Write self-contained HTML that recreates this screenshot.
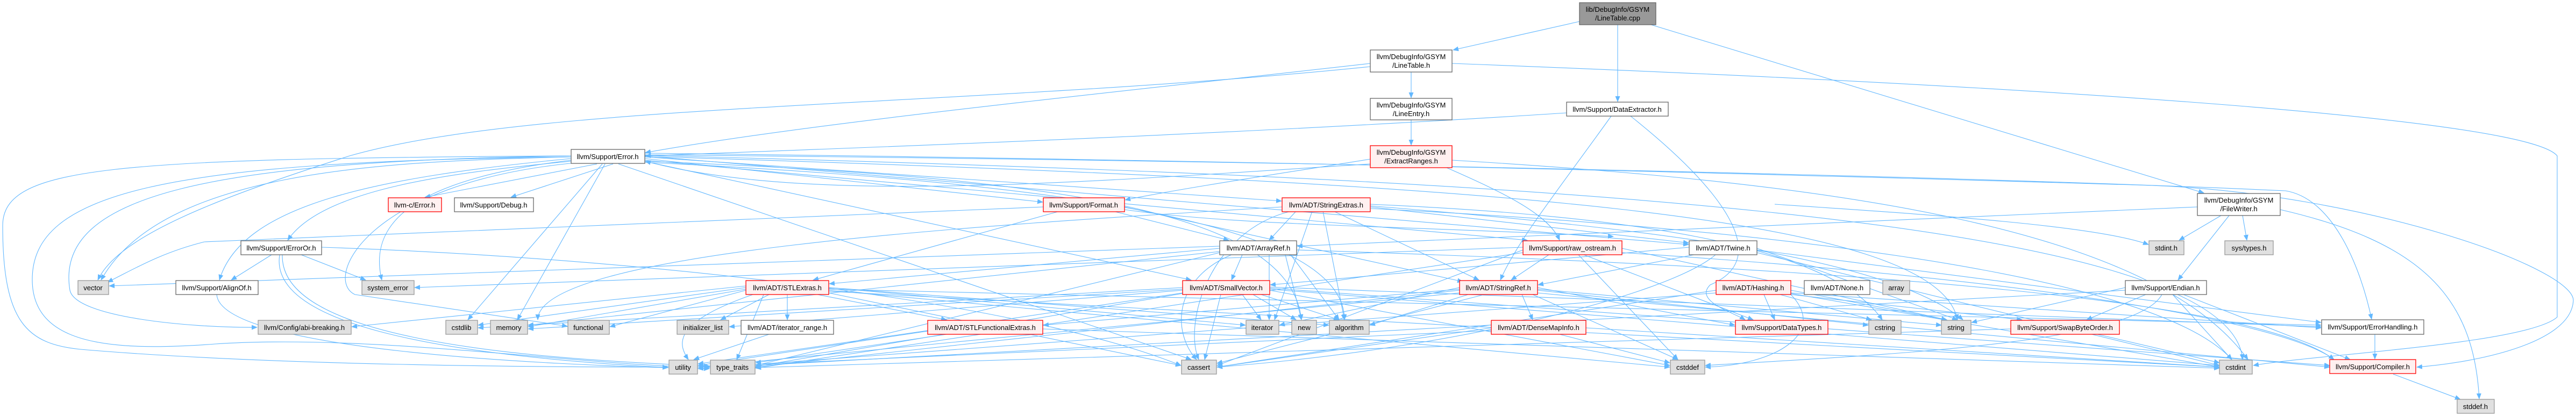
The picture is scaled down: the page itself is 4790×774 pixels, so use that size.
<!DOCTYPE html>
<html><head><meta charset="utf-8"><style>
html,body{margin:0;padding:0;background:#fff}
svg{display:block}
text{font-family:"Liberation Sans",sans-serif;font-size:13px;fill:#000;text-anchor:middle}
.e path{fill:none;stroke:#63b8ff;stroke-width:1.1}
.w{fill:#fff;stroke:#666;stroke-width:1.3}
.g{fill:#e0e0e0;stroke:#999;stroke-width:1.3}
.r{fill:#fff0f0;stroke:#f00;stroke-width:1.3}
.k{fill:#999;stroke:#666;stroke-width:1.3}
</style></head><body>
<svg width="4790" height="774" viewBox="0 0 4790 774" xmlns="http://www.w3.org/2000/svg">
<defs><marker id="a" markerWidth="11" markerHeight="9" refX="10" refY="4.5" orient="auto" markerUnits="userSpaceOnUse"><path d="M0,0 L11,4.5 L0,9z" fill="#63b8ff"/></marker></defs>
<g class="e" marker-end="url(#a)">
<!-- root -->
<path d="M2937,40 L2702,93" marker-end="url(#a)"/>
<path d="M3008,46 L3008,189" marker-end="url(#a)"/>
<path d="M3070,46 L4098,359" marker-end="url(#a)"/>
<!-- LineTable.h -->
<path d="M2624,134 L2624,182" marker-end="url(#a)"/>
<path d="M2548,118 C2000,180 1500,230 1200,284" marker-end="url(#a)"/>
<path d="M2548,124 C1800,200 1000,190 650,290 C400,370 220,440 182,521" marker-end="url(#a)"/>
<path d="M2700,118 C3800,160 4700,220 4755,290 L4755,590 C4700,640 4300,660 4190,680" marker-end="url(#a)"/>
<path d="M2624,223 L2624,270" marker-end="url(#a)"/>
<!-- DataExtractor -->
<path d="M2913,210 C2300,250 1600,275 1200,290" marker-end="url(#a)"/>
<path d="M2996,216 C2900,350 2820,450 2790,521" marker-end="url(#a)"/>
<path d="M3032,216 C3200,350 3300,480 3180,530 C3150,560 3220,580 3245,595" marker-end="url(#a)"/>
<!-- ExtractRanges -->
<path d="M2548,296 C2400,320 2200,350 2092,372" marker-end="url(#a)"/>
<path d="M2690,312 C2800,360 2880,400 2900,447" marker-end="url(#a)"/>
<path d="M2700,298 C3400,340 4000,420 4180,669" marker-end="url(#a)"/>
<path d="M2548,305 C2000,340 1500,380 1200,300"/>
<!-- Error.h -->
<path d="M1110,305 L790,367" marker-end="url(#a)"/>
<path d="M1140,305 L950,367" marker-end="url(#a)"/>
<path d="M1062,300 C850,320 600,350 535,447" marker-end="url(#a)"/>
<path d="M1062,292 C700,300 300,320 188,521" marker-end="url(#a)"/>
<path d="M1062,295 C700,330 450,380 408,521" marker-end="url(#a)"/>
<path d="M1062,298 C800,330 680,400 710,521" marker-end="url(#a)"/>
<path d="M1062,290 C400,300 100,360 130,540 C140,590 350,610 478,609" marker-end="url(#a)"/>
<path d="M1120,305 L870,595" marker-end="url(#a)"/>
<path d="M1125,305 L962,595" marker-end="url(#a)"/>
<path d="M1070,303 C680,340 600,520 660,548 L1055,607" marker-end="url(#a)"/>
<path d="M1062,290 C200,295 5,310 5,420 C5,600 50,640 150,650 C500,680 1000,683 1242,683" marker-end="url(#a)"/>
<path d="M1062,292 C300,300 60,360 60,520 C60,640 200,655 400,640 C700,620 1100,683 1319,683" marker-end="url(#a)"/>
<path d="M1150,305 L2215,669" marker-end="url(#a)"/>
<path d="M1198,295 L1939,376" marker-end="url(#a)"/>
<path d="M1198,292 L2383,374" marker-end="url(#a)"/>
<path d="M1198,300 L2215,521" marker-end="url(#a)"/>
<path d="M1198,290 L3140,455" marker-end="url(#a)"/>
<path d="M1198,288 C2500,300 3700,330 4250,355 C4340,370 4390,500 4410,594" marker-end="url(#a)"/>
<path d="M1198,285 C2500,300 3500,330 4000,345 C4400,360 4790,500 4785,560 C4780,640 4600,675 4494,683" marker-end="url(#a)"/>
<path d="M1198,289 C2800,330 4150,400 4170,669" marker-end="url(#a)"/>
<path d="M1198,291 C2800,340 3600,400 3640,595" marker-end="url(#a)"/>
<path d="M1198,300 C2000,330 2400,400 2420,595" marker-end="url(#a)"/>
<path d="M1198,302 C2000,340 2500,420 2500,595" marker-end="url(#a)"/>
<path d="M1198,298 L2840,447" marker-end="url(#a)"/>
<!-- ErrorOr -->
<path d="M505,474 L430,521" marker-end="url(#a)"/>
<path d="M560,474 L680,521" marker-end="url(#a)"/>
<path d="M520,474 C500,600 800,660 1242,684" marker-end="url(#a)"/>
<path d="M525,474 C520,620 900,665 1319,681" marker-end="url(#a)"/>
<path d="M598,460 C1200,480 1900,560 2196,680" marker-end="url(#a)"/>
<!-- AlignOf -->
<path d="M403,548 C410,650 1000,680 1319,686" marker-end="url(#a)"/>
<!-- Format -->
<path d="M1970,393 L1512,521" marker-end="url(#a)"/>
<path d="M2070,393 L2285,447" marker-end="url(#a)"/>
<path d="M2091,385 L2720,524" marker-end="url(#a)"/>
<path d="M1940,385 C1200,420 600,440 380,450 C300,470 250,500 200,525"/>
<path d="M2091,390 C2300,420 2600,420 3000,440"/>
<!-- StringExtras -->
<path d="M2410,393 L2360,447" marker-end="url(#a)"/>
<path d="M2480,393 L2750,521" marker-end="url(#a)"/>
<path d="M2548,385 L3140,452" marker-end="url(#a)"/>
<path d="M2440,393 L2370,595" marker-end="url(#a)"/>
<path d="M2460,393 L2500,595" marker-end="url(#a)"/>
<path d="M2400,393 C2250,430 2200,600 2229,669" marker-end="url(#a)"/>
<path d="M2548,380 C3000,400 3400,450 3500,595" marker-end="url(#a)"/>
<path d="M2548,383 C3000,420 3500,470 3650,595" marker-end="url(#a)"/>
<path d="M2548,388 C3200,420 4000,500 4150,669" marker-end="url(#a)"/>
<path d="M2384,385 C1800,420 1000,470 1000,595" marker-end="url(#a)"/>
<!-- ArrayRef -->
<path d="M2310,474 L2290,521" marker-end="url(#a)"/>
<path d="M2268,462 L1542,528" marker-end="url(#a)"/>
<path d="M2360,474 L2360,595" marker-end="url(#a)"/>
<path d="M2290,474 C2180,520 2180,620 2225,669" marker-end="url(#a)"/>
<path d="M2268,458 L203,532" marker-end="url(#a)"/>
<path d="M2390,474 L2420,595" marker-end="url(#a)"/>
<path d="M2400,474 L2490,595" marker-end="url(#a)"/>
<path d="M2411,465 C3500,500 4200,560 4340,669" marker-end="url(#a)"/>
<path d="M2268,470 L1405,680" marker-end="url(#a)"/>
<path d="M2268,468 L982,605" marker-end="url(#a)"/>
<!-- raw_ostream -->
<path d="M2880,474 L2810,521" marker-end="url(#a)"/>
<path d="M2935,474 L3120,669" marker-end="url(#a)"/>
<path d="M2945,474 L3260,595" marker-end="url(#a)"/>
<path d="M3016,462 L3620,595" marker-end="url(#a)"/>
<path d="M2832,465 L2263,680" marker-end="url(#a)"/>
<path d="M2832,460 L771,535" marker-end="url(#a)"/>
<path d="M2832,470 L1405,685" marker-end="url(#a)"/>
<path d="M3016,470 C3800,520 4250,600 4340,669" marker-end="url(#a)"/>
<!-- Twine -->
<path d="M3150,474 L2860,530" marker-end="url(#a)"/>
<path d="M3141,460 L2362,530" marker-end="url(#a)"/>
<path d="M3190,474 C3100,550 2700,650 2263,683" marker-end="url(#a)"/>
<path d="M3267,462 L3640,595" marker-end="url(#a)"/>
<path d="M3267,470 L4127,680" marker-end="url(#a)"/>
<path d="M3267,465 L4316,600" marker-end="url(#a)"/>
<!-- StringRef -->
<path d="M2830,548 L2850,595" marker-end="url(#a)"/>
<path d="M2730,548 L2547,605" marker-end="url(#a)"/>
<path d="M2859,535 L3226,605" marker-end="url(#a)"/>
<path d="M2850,548 L3120,669" marker-end="url(#a)"/>
<path d="M2859,540 L3474,605" marker-end="url(#a)"/>
<path d="M2859,538 L3610,605" marker-end="url(#a)"/>
<path d="M2714,540 L1405,683" marker-end="url(#a)"/>
<path d="M2714,545 L1298,683" marker-end="url(#a)"/>
<path d="M2714,535 L2379,605" marker-end="url(#a)"/>
<path d="M2714,538 L1940,605" marker-end="url(#a)"/>
<path d="M2760,548 L2263,676" marker-end="url(#a)"/>
<path d="M2859,545 L4332,683" marker-end="url(#a)"/>
<!-- Hashing -->
<path d="M3280,548 L3300,595" marker-end="url(#a)"/>
<path d="M3310,548 L3480,595" marker-end="url(#a)"/>
<path d="M3330,540 L3620,595" marker-end="url(#a)"/>
<path d="M3330,545 L4316,610" marker-end="url(#a)"/>
<path d="M3330,548 L3760,595" marker-end="url(#a)"/>
<path d="M3191,540 L2263,683" marker-end="url(#a)"/>
<path d="M3330,548 C3400,620 3300,680 3171,683" marker-end="url(#a)"/>
<path d="M3330,546 L4127,683" marker-end="url(#a)"/>
<path d="M3191,545 L1298,686" marker-end="url(#a)"/>
<!-- DenseMapInfo -->
<path d="M2773,610 L2263,683" marker-end="url(#a)"/>
<path d="M2900,622 L3105,675" marker-end="url(#a)"/>
<path d="M2949,610 L4127,683" marker-end="url(#a)"/>
<path d="M2773,615 L1298,683" marker-end="url(#a)"/>
<!-- STLExtras -->
<path d="M1430,548 L1340,595" marker-end="url(#a)"/>
<path d="M1464,548 L1464,595" marker-end="url(#a)"/>
<path d="M1520,548 L1760,595" marker-end="url(#a)"/>
<path d="M1400,548 C1250,600 1260,640 1280,669" marker-end="url(#a)"/>
<path d="M1420,548 L1370,669" marker-end="url(#a)"/>
<path d="M1541,535 L2316,605" marker-end="url(#a)"/>
<path d="M1541,545 L2196,680" marker-end="url(#a)"/>
<path d="M1387,535 L889,605" marker-end="url(#a)"/>
<path d="M1387,538 L982,608" marker-end="url(#a)"/>
<path d="M1387,540 L1134,608" marker-end="url(#a)"/>
<path d="M1387,532 L654,608" marker-end="url(#a)"/>
<path d="M1541,535 L2471,605" marker-end="url(#a)"/>
<path d="M1541,540 L3105,683" marker-end="url(#a)"/>
<path d="M1541,542 L4127,683" marker-end="url(#a)"/>
<path d="M1541,538 L4316,605" marker-end="url(#a)"/>
<!-- SmallVector -->
<path d="M2270,548 L2240,669" marker-end="url(#a)"/>
<path d="M2310,548 L2345,595" marker-end="url(#a)"/>
<path d="M2330,548 L2410,595" marker-end="url(#a)"/>
<path d="M2345,548 L2490,595" marker-end="url(#a)"/>
<path d="M2199,535 L889,610" marker-end="url(#a)"/>
<path d="M2199,538 L982,612" marker-end="url(#a)"/>
<path d="M2199,540 L1356,608" marker-end="url(#a)"/>
<path d="M2199,545 L1298,680" marker-end="url(#a)"/>
<path d="M2199,546 L1405,682" marker-end="url(#a)"/>
<path d="M2361,540 L3105,680" marker-end="url(#a)"/>
<path d="M2361,538 L4127,680" marker-end="url(#a)"/>
<path d="M2361,536 L4332,680" marker-end="url(#a)"/>
<path d="M2361,534 L4316,608" marker-end="url(#a)"/>
<!-- others -->
<path d="M1430,622 L1290,669" marker-end="url(#a)"/>
<path d="M1760,622 L1405,675" marker-end="url(#a)"/>
<path d="M1725,615 L1298,677" marker-end="url(#a)"/>
<path d="M1939,612 L4127,685" marker-end="url(#a)"/>
<!-- FileWriter -->
<path d="M4130,401 L4052,447" marker-end="url(#a)"/>
<path d="M4170,401 L4178,447" marker-end="url(#a)"/>
<path d="M4145,401 L4050,521" marker-end="url(#a)"/>
<path d="M4086,385 L2412,458" marker-end="url(#a)"/>
<path d="M4240,390 C4500,450 4600,550 4610,742" marker-end="url(#a)"/>
<path d="M3300,380 C3600,400 3900,420 3995,455" marker-end="url(#a)"/>
<!-- Endian -->
<path d="M3990,548 L3880,595" marker-end="url(#a)"/>
<path d="M4040,548 L4150,669" marker-end="url(#a)"/>
<path d="M4060,548 L4370,669" marker-end="url(#a)"/>
<path d="M4020,548 C3970,640 3500,660 3171,680" marker-end="url(#a)"/>
<path d="M3952,540 L1405,680" marker-end="url(#a)"/>
<path d="M3952,535 L3666,600" marker-end="url(#a)"/>
<path d="M3900,622 L4127,675" marker-end="url(#a)"/>
<path d="M3739,612 L1405,684" marker-end="url(#a)"/>
<path d="M4416,622 L4416,668" marker-end="url(#a)"/>
<path d="M4450,696 L4575,743" marker-end="url(#a)"/>
</g>
<g>
<rect class="k" x="2937" y="5" width="142" height="41"/><text x="3008" y="22">lib/DebugInfo/GSYM</text><text x="3008" y="38">/LineTable.cpp</text>
<rect class="w" x="2548" y="93" width="152" height="41"/><text x="2624" y="110">llvm/DebugInfo/GSYM</text><text x="2624" y="126">/LineTable.h</text>
<rect class="w" x="2548" y="183" width="152" height="40"/><text x="2624" y="200">llvm/DebugInfo/GSYM</text><text x="2624" y="216">/LineEntry.h</text>
<rect class="w" x="2913" y="190" width="189" height="26"/><text x="3007" y="208">llvm/Support/DataExtractor.h</text>
<rect class="r" x="2548" y="271" width="152" height="41"/><text x="2624" y="288">llvm/DebugInfo/GSYM</text><text x="2624" y="304">/ExtractRanges.h</text>
<rect class="w" x="1062" y="278" width="137" height="26"/><text x="1130" y="296">llvm/Support/Error.h</text>
<rect class="w" x="4086" y="360" width="154" height="41"/><text x="4163" y="377">llvm/DebugInfo/GSYM</text><text x="4163" y="393">/FileWriter.h</text>
<rect class="r" x="722" y="368" width="99" height="26"/><text x="771" y="386">llvm-c/Error.h</text>
<rect class="w" x="845" y="368" width="147" height="26"/><text x="918" y="386">llvm/Support/Debug.h</text>
<rect class="r" x="1940" y="368" width="151" height="26"/><text x="2015" y="386">llvm/Support/Format.h</text>
<rect class="r" x="2384" y="368" width="164" height="26"/><text x="2466" y="386">llvm/ADT/StringExtras.h</text>
<rect class="w" x="448" y="448" width="150" height="26"/><text x="523" y="466">llvm/Support/ErrorOr.h</text>
<rect class="w" x="2268" y="448" width="143" height="26"/><text x="2340" y="466">llvm/ADT/ArrayRef.h</text>
<rect class="r" x="2832" y="448" width="184" height="26"/><text x="2924" y="466">llvm/Support/raw_ostream.h</text>
<rect class="w" x="3141" y="448" width="126" height="26"/><text x="3204" y="466">llvm/ADT/Twine.h</text>
<rect class="g" x="3996" y="448" width="65" height="26"/><text x="4028" y="466">stdint.h</text>
<rect class="g" x="4137" y="448" width="90" height="26"/><text x="4182" y="466">sys/types.h</text>
<rect class="g" x="145" y="522" width="57" height="26"/><text x="173" y="540">vector</text>
<rect class="w" x="327" y="522" width="153" height="26"/><text x="403" y="540">llvm/Support/AlignOf.h</text>
<rect class="g" x="673" y="522" width="97" height="26"/><text x="721" y="540">system_error</text>
<rect class="r" x="1387" y="522" width="154" height="26"/><text x="1464" y="540">llvm/ADT/STLExtras.h</text>
<rect class="r" x="2199" y="522" width="162" height="26"/><text x="2280" y="540">llvm/ADT/SmallVector.h</text>
<rect class="r" x="2714" y="522" width="145" height="26"/><text x="2786" y="540">llvm/ADT/StringRef.h</text>
<rect class="r" x="3191" y="522" width="139" height="26"/><text x="3260" y="540">llvm/ADT/Hashing.h</text>
<rect class="w" x="3355" y="522" width="122" height="26"/><text x="3416" y="540">llvm/ADT/None.h</text>
<rect class="g" x="3501" y="522" width="50" height="26"/><text x="3526" y="540">array</text>
<rect class="w" x="3952" y="522" width="151" height="26"/><text x="4027" y="540">llvm/Support/Endian.h</text>
<rect class="g" x="480" y="596" width="173" height="26"/><text x="566" y="614">llvm/Config/abi-breaking.h</text>
<rect class="g" x="829" y="596" width="59" height="26"/><text x="858" y="614">cstdlib</text>
<rect class="g" x="912" y="596" width="69" height="26"/><text x="946" y="614">memory</text>
<rect class="g" x="1056" y="596" width="77" height="26"/><text x="1094" y="614">functional</text>
<rect class="g" x="1259" y="596" width="96" height="26"/><text x="1307" y="614">initializer_list</text>
<rect class="w" x="1378" y="596" width="172" height="26"/><text x="1464" y="614">llvm/ADT/iterator_range.h</text>
<rect class="r" x="1725" y="596" width="214" height="26"/><text x="1832" y="614">llvm/ADT/STLFunctionalExtras.h</text>
<rect class="g" x="2317" y="596" width="61" height="26"/><text x="2347" y="614">iterator</text>
<rect class="g" x="2402" y="596" width="46" height="26"/><text x="2425" y="614">new</text>
<rect class="g" x="2472" y="596" width="74" height="26"/><text x="2509" y="614">algorithm</text>
<rect class="r" x="2773" y="596" width="176" height="26"/><text x="2861" y="614">llvm/ADT/DenseMapInfo.h</text>
<rect class="r" x="3227" y="596" width="172" height="26"/><text x="3313" y="614">llvm/Support/DataTypes.h</text>
<rect class="g" x="3475" y="596" width="60" height="26"/><text x="3505" y="614">cstring</text>
<rect class="g" x="3610" y="596" width="55" height="26"/><text x="3637" y="614">string</text>
<rect class="r" x="3739" y="596" width="202" height="26"/><text x="3840" y="614">llvm/Support/SwapByteOrder.h</text>
<rect class="w" x="4317" y="595" width="190" height="27"/><text x="4412" y="613">llvm/Support/ErrorHandling.h</text>
<rect class="g" x="1244" y="670" width="53" height="26"/><text x="1270" y="688">utility</text>
<rect class="g" x="1321" y="670" width="83" height="26"/><text x="1362" y="688">type_traits</text>
<rect class="g" x="2197" y="670" width="65" height="26"/><text x="2229" y="688">cassert</text>
<rect class="g" x="3106" y="670" width="64" height="26"/><text x="3138" y="688">cstddef</text>
<rect class="g" x="4127" y="670" width="61" height="26"/><text x="4157" y="688">cstdint</text>
<rect class="r" x="4332" y="669" width="160" height="26"/><text x="4412" y="687">llvm/Support/Compiler.h</text>
<rect class="g" x="4569" y="743" width="69" height="26"/><text x="4603" y="761">stddef.h</text>
</g>
</svg>
</body></html>
